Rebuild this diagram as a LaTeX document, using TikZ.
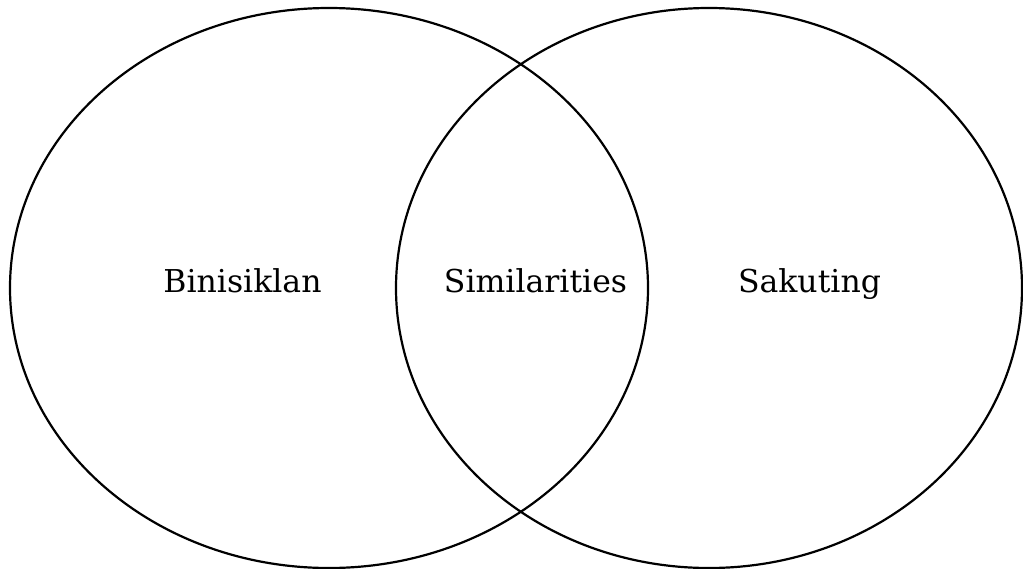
\documentclass[tikz,border=0pt]{standalone}
\usepackage{fontspec}
\setmainfont{DejaVu Serif}
\begin{document}
\begin{tikzpicture}[x=1pt,y=-1pt,
  venn/.style={draw=black,line width=2.2pt},
  lbl/.style={font=\fontsize{31.5}{34}\selectfont,anchor=base,inner sep=0pt}]
\useasboundingbox (0,0) rectangle (1023,568);
\draw[venn] (329,288) ellipse [x radius=319, y radius=280];
\draw[venn] (709,288) ellipse [x radius=313, y radius=280];
\node[lbl] (a) at (242.5,292) {Binisiklan};
\node[lbl] (b) at (535.5,292) {Similarities};
\node[lbl] (c) at (809.5,292) {Sakuting};
\end{tikzpicture}
\end{document}
